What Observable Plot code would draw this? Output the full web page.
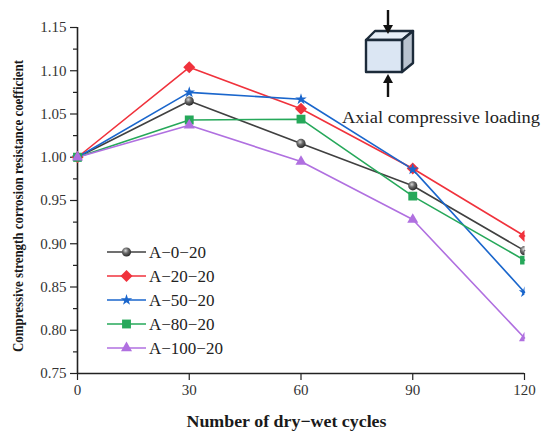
<!DOCTYPE html>
<html>
<head>
<meta charset="utf-8">
<script src="https://cdn.jsdelivr.net/npm/d3@7"></script>
<script src="https://cdn.jsdelivr.net/npm/@observablehq/plot@0.6"></script>
<style>
  html, body { margin: 0; padding: 0; background: #fff; }
  #chart svg { display: block; }
</style>
</head>
<body>
<div id="chart"></div>
<script>
// ---- data ----
const cycles = [0, 30, 60, 90, 120];
const seriesNames = ["A−0−20", "A−20−20", "A−50−20", "A−80−20", "A−100−20"];
const a0 = [1.000, 1.065, 1.016, 0.967, 0.892];
const a20 = [1.000, 1.104, 1.056, 0.987, 0.909];
const a50 = [1.000, 1.075, 1.067, 0.986, 0.844];
const a80 = [1.000, 1.043, 1.044, 0.955, 0.881];
const a100 = [1.000, 1.037, 0.995, 0.928, 0.791];
const seriesValues = [a0, a20, a50, a80, a100];
const colors = ["#404040", "#f0323c", "#1a66cc", "#26a85a", "#b070e0"];
const symbols = ["circle", "diamond2", "star", "square", "triangle"];
const yTicks = [0.75, 0.80, 0.85, 0.90, 0.95, 1.00, 1.05, 1.10, 1.15];
const yMinor = [0.775, 0.825, 0.875, 0.925, 0.975, 1.025, 1.075, 1.125];
const xTicks = [0, 30, 60, 90, 120];
const xTitle = "Number of dry−wet cycles";
const yTitle = "Compressive strength corrosion resistance coefficient";
const noteText = "Axial compressive loading";

const rows = [];
seriesNames.forEach((s, i) => cycles.forEach((c, j) => rows.push({series: s, x: c, y: seriesValues[i][j]})));
const markerR = {"circle": 4.6, "diamond2": 5.4, "star": 3.6, "square": 5.0, "triangle": 4.1};
const fillFor = (i) => i === 0 ? "url(#sphere)" : colors[i];

const W = 550, H = 438;
const font = "'Liberation Serif', 'Times New Roman', serif";

const plot = Plot.plot({
  width: W, height: H,
  marginLeft: 77, marginRight: 26, marginTop: 27, marginBottom: 65,
  style: {fontFamily: font, fontSize: "15px", color: "#333", background: "#fff"},
  x: {domain: [0, 120]},
  y: {domain: [0.75, 1.15]},
  marks: [
    Plot.axisY({ticks: yMinor, tickSize: 4, tickFormat: null, text: null, stroke: "#222", strokeWidth: 1.2, label: null}),
    Plot.axisY({ticks: yTicks, tickSize: 7, tickPadding: 4, tickFormat: ".2f", stroke: "#222", strokeWidth: 1.2, label: null, fontSize: 15, fill: "#333"}),
    Plot.axisX({ticks: xTicks, tickSize: 7, tickPadding: 4, tickFormat: d => d, stroke: "#222", strokeWidth: 1.2, label: null, fontSize: 15, fill: "#333"}),
    Plot.ruleY([0.75], {stroke: "#222", strokeWidth: 1.6}),
    Plot.ruleX([0], {stroke: "#222", strokeWidth: 1.6}),
    ...seriesNames.map((s, i) => Plot.line(rows.filter(r => r.series === s), {x: "x", y: "y", stroke: colors[i], strokeWidth: 1.6})),
    ...seriesNames.map((s, i) => Plot.dot(rows.filter(r => r.series === s), {
      x: "x", y: "y", symbol: () => symbols[i], r: markerR[symbols[i]],
      fill: fillFor(i), stroke: "none"
    }))
  ]
});

document.getElementById("chart").appendChild(plot);

const svg = d3.select(plot);
const xs = plot.scale("x"), ys = plot.scale("y");
const x0 = xs.apply(0), x1 = xs.apply(120);

// defs: sphere gradient & clip (clip right edge only, like reference)
const defs = svg.insert("defs", ":first-child");
const grad = defs.append("radialGradient").attr("id", "sphere").attr("cx", "40%").attr("cy", "35%").attr("r", "65%");
grad.append("stop").attr("offset", "0%").attr("stop-color", "#d8d8d8");
grad.append("stop").attr("offset", "45%").attr("stop-color", "#6a6a6a");
grad.append("stop").attr("offset", "100%").attr("stop-color", "#2a2a2a");
defs.append("clipPath").attr("id", "rightclip").append("rect")
  .attr("x", 0).attr("y", 0).attr("width", x1).attr("height", H);
svg.selectAll("g[aria-label='dot']").attr("clip-path", "url(#rightclip)");

// axis titles
svg.append("text")
  .attr("x", (x0 + x1) / 2 - 14).attr("y", 427)
  .attr("text-anchor", "middle")
  .style("font-family", font).style("font-weight", "bold").style("font-size", "17px").attr("fill", "#1a1a1a")
  .attr("textLength", 200).attr("lengthAdjust", "spacingAndGlyphs")
  .text(xTitle);
svg.append("text")
  .attr("transform", `translate(23, ${(60 + 352) / 2}) rotate(-90)`)
  .attr("text-anchor", "middle")
  .style("font-family", font).style("font-weight", "bold").style("font-size", "14px").attr("fill", "#1a1a1a")
  .attr("textLength", 292).attr("lengthAdjust", "spacingAndGlyphs")
  .text(yTitle);

// legend
const lg = svg.append("g");
const symMap = {circle: d3.symbolCircle, diamond2: d3.symbolDiamond2, star: d3.symbolStar, square: d3.symbolSquare, triangle: d3.symbolTriangle};
seriesNames.forEach((s, i) => {
  const cy = 252 + i * 24;
  lg.append("line").attr("x1", 107).attr("x2", 146).attr("y1", cy).attr("y2", cy)
    .attr("stroke", colors[i]).attr("stroke-width", 1.6);
  const rr = markerR[symbols[i]];
  lg.append("path").attr("d", d3.symbol(symMap[symbols[i]], Math.PI * rr * rr)())
    .attr("transform", `translate(126.5, ${cy})`).attr("fill", fillFor(i));
  lg.append("text").attr("x", 149).attr("y", cy + 6).attr("text-anchor", "start")
    .style("font-family", font).style("font-size", "17px").attr("fill", "#222").text(s);
});

// cube icon
const ic = svg.append("g").attr("stroke-linejoin", "round");
const navy = "#1c2b3a";
ic.append("path").attr("d", "M366,40 L375,31 L413,31 L402,40 Z").attr("fill", "#e6eef7").attr("stroke", navy).attr("stroke-width", 2.4);
ic.append("path").attr("d", "M402,40 L413,31 L413,63 L402,72 Z").attr("fill", "#b9c3cf").attr("stroke", navy).attr("stroke-width", 2.4);
ic.append("rect").attr("x", 366).attr("y", 40).attr("width", 36).attr("height", 32).attr("fill", "#dbe6f3").attr("stroke", navy).attr("stroke-width", 2.4);
ic.append("line").attr("x1", 388).attr("x2", 388).attr("y1", 10).attr("y2", 26).attr("stroke", "#111").attr("stroke-width", 2.4);
ic.append("path").attr("d", "M383,25 L393,25 L388,34 Z").attr("fill", "#111");
ic.append("line").attr("x1", 388).attr("x2", 388).attr("y1", 82).attr("y2", 97).attr("stroke", "#111").attr("stroke-width", 2.4);
ic.append("path").attr("d", "M383,83 L393,83 L388,74 Z").attr("fill", "#111");

svg.append("text").attr("x", 342).attr("y", 123).attr("text-anchor", "start")
  .style("font-family", font).style("font-size", "17px").attr("fill", "#222")
  .attr("textLength", 198).attr("lengthAdjust", "spacingAndGlyphs")
  .text(noteText);
</script>
</body>
</html>
